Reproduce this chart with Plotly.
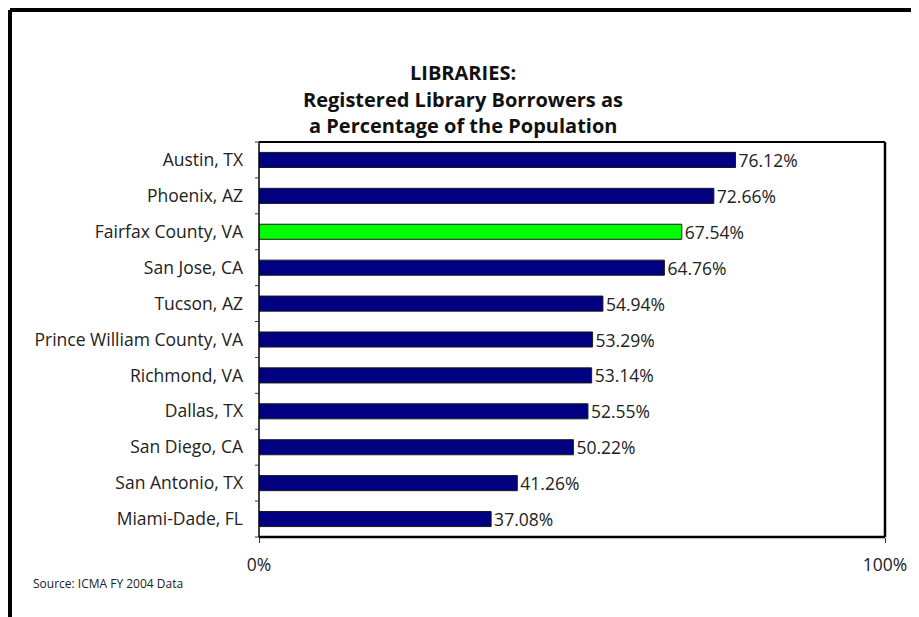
import plotly.graph_objects as go

cities = ["Austin, TX", "Phoenix, AZ", "Fairfax County, VA", "San Jose, CA", "Tucson, AZ",
          "Prince William County, VA", "Richmond, VA", "Dallas, TX", "San Diego, CA",
          "San Antonio, TX", "Miami-Dade, FL"]
values = [76.12, 72.66, 67.54, 64.76, 54.94, 53.29, 53.14, 52.55, 50.22, 41.26, 37.08]
highlight = "Fairfax County, VA"
x_ticks = [0, 100]
x_tick_labels = ["0%", "100%"]

colors = ["#00FF00" if c == highlight else "#000080" for c in cities]
labels = [f"{v:.2f}%" for v in values]

OFF = 8  # page body margin
W, H = 919 - OFF, 617 - OFF
L, R, T, B = 259 - OFF, 34, 142 - OFF, 80
pw, ph = W - L - R, H - T - B

font = "Open Sans, sans-serif"
FS = 17.5

fig = go.Figure(go.Bar(
    y=cities, x=values, orientation="h",
    marker=dict(color=colors, line=dict(color="#1a1a1a", width=1)),
    width=0.42,
    text=labels, textposition="outside", cliponaxis=False, constraintext="none",
    textfont=dict(family=font, size=FS, color="#222222"),
))

fig.update_layout(
    width=W, height=H, margin=dict(l=L, r=R, t=T, b=B),
    paper_bgcolor="white", plot_bgcolor="white",
    showlegend=False,
    font=dict(family=font, color="#222222"),
    xaxis=dict(range=[0, 100], tickvals=x_ticks, ticktext=x_tick_labels,
               showgrid=False, zeroline=False, showline=False,
               ticks="outside", ticklen=5, tickcolor="#333", tickwidth=1,
               tickfont=dict(size=FS, color="#222222"), ticklabelstandoff=7),
    yaxis=dict(autorange="reversed", showgrid=False, zeroline=False, showline=False,
               ticks="", tickfont=dict(size=FS, color="#222222"), ticklabelstandoff=15),
)

# plot area border
fig.add_shape(type="line", xref="paper", yref="paper", x0=0, x1=0, y0=0, y1=1,
              line=dict(color="black", width=1.5))
fig.add_shape(type="line", xref="paper", yref="paper", x0=0, x1=1, y0=1, y1=1,
              line=dict(color="black", width=2))
fig.add_shape(type="line", xref="paper", yref="paper", x0=1, x1=1, y0=0, y1=1,
              line=dict(color="black", width=2.5))
fig.add_shape(type="line", xref="paper", yref="paper", x0=0, x1=1, y0=0, y1=0,
              line=dict(color="black", width=2.5))

# category-boundary ticks on y axis
n = len(cities)
for i in range(n + 1):
    yy = 1 - i / n
    fig.add_shape(type="line", xref="paper", yref="paper",
                  x0=-4 / pw, x1=0, y0=yy, y1=yy, line=dict(color="#333", width=1))

# outer frame (top & left)
fx = (10 - OFF - L) / pw
fy = (H - B - (10 - OFF)) / ph
fig.add_shape(type="line", xref="paper", yref="paper", x0=fx, x1=(W - L) / pw + 0.01,
              y0=fy, y1=fy, line=dict(color="black", width=4))
fig.add_shape(type="line", xref="paper", yref="paper", x0=fx, x1=fx,
              y0=fy, y1=-B / ph - 0.01, line=dict(color="black", width=4))

# title
titles = ["LIBRARIES:", "Registered Library Borrowers as", "a Percentage of the Population"]
for k, t in enumerate(titles):
    ypx = 73 + 26 * k - OFF
    fig.add_annotation(text=f"<b>{t}</b>", xref="paper", yref="paper",
                       x=(463 - OFF - L) / pw, y=(H - B - ypx) / ph, showarrow=False,
                       xanchor="center", yanchor="middle",
                       font=dict(family=font, size=20, color="#111111"))

fig.add_annotation(text="Source: ICMA FY 2004 Data", xref="paper", yref="paper",
                   x=(31 - OFF - L) / pw, y=(H - B - (583 - OFF)) / ph, showarrow=False,
                   xanchor="left", yanchor="middle",
                   font=dict(family=font, size=12, color="#222222"))

fig.write_html("out.html")
